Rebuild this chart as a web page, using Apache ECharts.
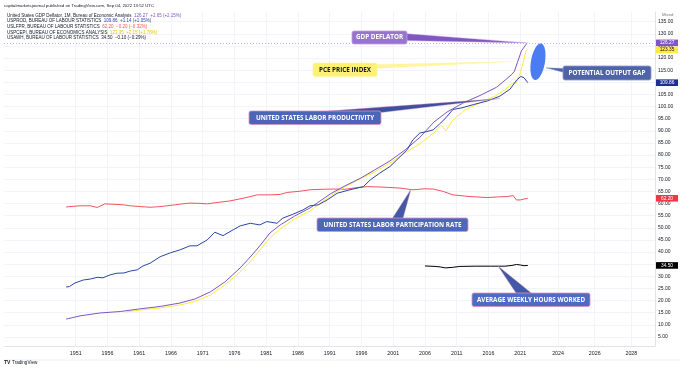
<!DOCTYPE html>
<html><head><meta charset="utf-8">
<script src="https://cdn.jsdelivr.net/npm/echarts@6/dist/echarts.min.js"></script>
<style>html,body{margin:0;padding:0;background:#fff}#c{width:680px;height:369px}</style>
</head><body><div id="c"></div>
<script>
// ---------------- DATA ----------------
const xTickLabels = [1951,1956,1961,1966,1971,1976,1981,1986,1991,1996,2001,2006,2011,2016,2021];
const futureTickLabels = [2024,2026,2028];
const yTickLabels = [5,10,15,20,25,30,35,40,45,50,55,60,65,70,75,80,85,90,95,100,105,110,115,120,125,130,135];

const gdpYears = [1949.5,1951.7,1954.8,1958.0,1961.1,1964.3,1967.4,1969.8,1972.2,1974.5,1976.9,1978.5,1980.0,1981.6,1983.2,1985.5,1987.9,1991.1,1993.4,1995.8,1998.1,2000.5,2002.9,2005.2,2007.4,2009.5,2012.1,2014.7,2017.3,2018.9,2019.7,2020.1,2020.6,2021.2,2022.1];
const gdpValues = [12.4,13.7,14.9,15.5,16.6,17.6,19.0,20.7,23.6,27.7,33.5,38.0,42.6,47.9,51.2,54.9,58.2,64.0,67.3,70.4,73.9,77.6,82.2,87.3,93.6,97.8,101.6,104.6,108.0,111.5,113.3,114.6,118.5,123.0,126.27];

const pceYears = [1958.9,1961.1,1964.3,1967.4,1969.8,1972.2,1974.5,1976.9,1978.5,1980.0,1981.6,1983.2,1985.5,1987.9,1991.1,1993.4,1995.8,1998.1,2000.5,2002.9,2005.2,2007.6,2008.5,2009.3,2010.3,2012.3,2014.7,2017.1,2018.6,2019.8,2020.4,2020.9,2021.4,2021.95];
const pceValues = [15.3,16.1,17.0,18.2,19.7,22.3,26.5,31.8,36.0,40.9,45.9,49.6,53.7,57.0,63.2,66.9,70.2,73.1,76.8,80.9,84.7,89.6,92.4,90.0,94.2,98.6,101.6,104.4,107.0,109.6,109.8,112.8,117.5,123.35];

const prodYears = [1949.5,1950.0,1950.9,1952.2,1953.3,1954.4,1955.3,1956.4,1957.5,1958.6,1959.6,1960.7,1961.6,1962.7,1964.3,1965.9,1967.4,1969.0,1970.1,1971.7,1972.9,1974.2,1975.8,1976.9,1978.5,1980.0,1981.1,1982.7,1983.6,1985.2,1986.8,1987.9,1989.2,1990.6,1992.2,1994.2,1996.3,1997.4,1998.9,2000.5,2002.1,2003.2,2004.1,2005.2,2006.3,2007.3,2008.3,2009.3,2010.4,2012.0,2013.6,2015.8,2017.8,2019.4,2020.5,2021.1,2021.6,2022.2];
const prodValues = [25.6,25.8,27.3,28.5,28.9,29.6,29.4,30.6,31.3,31.4,32.2,32.7,34.3,35.4,38.1,39.7,40.9,42.6,42.6,45.0,48.2,46.8,49.2,50.8,51.9,51.2,52.6,51.9,54.0,55.6,57.4,59.1,59.5,61.5,64.3,65.7,67.0,69.8,72.6,75.3,79.4,82.2,86.3,89.1,89.7,90.4,92.8,95.4,98.8,99.6,100.8,102.3,104.3,107.2,111.1,112.4,111.9,109.86];

const lfprYears = [1949.5,1950.1,1951.7,1953.3,1954.4,1955.6,1957.2,1958.5,1959.6,1961.1,1962.7,1964.0,1965.4,1966.6,1967.8,1969.0,1970.6,1971.7,1973.4,1975.3,1977.7,1979.6,1981.6,1983.2,1984.3,1986.3,1987.9,1989.8,1991.6,1993.4,1995.0,1996.9,1999.4,2002.1,2004.1,2006.0,2007.3,2008.9,2010.4,2013.1,2015.8,2017.8,2018.9,2019.9,2020.4,2021.0,2021.5,2022.2];
const lfprValues = [58.6,58.8,59.1,59.1,58.4,59.9,59.7,59.5,59.1,58.8,58.5,58.7,59.1,59.5,59.9,60.2,60.1,59.9,60.5,61.1,62.4,63.6,63.6,63.8,64.6,65.1,65.7,65.9,66.0,65.9,66.5,67.0,66.8,66.4,65.7,66.1,66.0,65.0,63.6,62.9,62.5,62.8,62.9,63.3,61.5,61.5,61.8,62.2];

const awhYears = [2006.0,2007.6,2008.4,2009.2,2010.3,2011.5,2013.9,2016.3,2018.6,2019.7,2020.4,2021.0,2021.6,2022.2];
const awhValues = [34.3,34.1,33.9,33.5,33.7,34.1,34.2,34.2,34.2,34.5,34.9,34.7,34.4,34.50];

const legendNames = ['United States GDP Deflator, 1M, Bureau of Economic Analysis','USPROD, BUREAU OF LABOUR STATISTICS','USLFPR, BUREAU OF LABOUR STATISTICS','USPCEPI, BUREAU OF ECONOMICS ANALYSIS','USAWH, BUREAU OF LABOUR STATISTICS'];
const legendChanges = ['+2.65 (+2.15%)','+1.14 (+1.05%)','\u22120.20 (\u22120.32%)','+2.15 (+1.78%)','\u22120.10 (\u22120.29%)'];

// ---------------- CHART ----------------
const C = {gdp:'#7e57c2', pce:'#ffeb3b', prod:'#2a46a6', lfpr:'#f5515f', awh:'#000000'};
const FONT = 'Liberation Sans, Arial, sans-serif';
const zip = (xs, vs) => xs.map((x, i) => [x, vs[i]]);
const chart = echarts.init(document.getElementById('c'), null, {renderer:'canvas'});

const GRID = {left:4, right:25, top:12, bottom:23};
const lineSeries = (name, xs, vs, color, extra) => Object.assign({
  name, type:'line', data: zip(xs, vs), showSymbol:false, symbol:'none',
  lineStyle:{color, width:1}, itemStyle:{color}, xAxisIndex:0, yAxisIndex:0, silent:true
}, extra || {});

chart.setOption({
  animation:false,
  backgroundColor:'#ffffff',
  grid:{left:GRID.left, right:GRID.right, top:GRID.top, bottom:GRID.bottom, containLabel:false, outerBoundsMode:'none'},
  xAxis:[{
    type:'value', position:'bottom', min:1939.71, max:2042.23,
    axisLine:{show:true, lineStyle:{color:'#e0e3eb'}},
    axisTick:{show:false, customValues:xTickLabels},
    axisLabel:{customValues:xTickLabels, formatter:v=>String(v), fontSize:5.3, color:'#131722', fontFamily:FONT, margin:5},
    splitLine:{show:true, lineStyle:{color:'#f2f4f9', width:1}}
  },{
    type:'value', position:'bottom', min:1993.77, max:2029.29,
    axisLine:{show:false},
    axisTick:{show:false, customValues:futureTickLabels},
    axisLabel:{customValues:futureTickLabels, formatter:v=>String(v), fontSize:5.3, color:'#131722', fontFamily:FONT, margin:5},
    splitLine:{show:true, lineStyle:{color:'#f2f4f9', width:1}}
  }],
  yAxis:[{
    type:'value', position:'right', min:1.29, max:139.0,
    axisLine:{show:true, lineStyle:{color:'#e0e3eb'}},
    axisTick:{show:false, customValues:yTickLabels},
    axisLabel:{customValues:yTickLabels, formatter:v=>v.toFixed(2), fontSize:5, color:'#131722', fontFamily:FONT, margin:3},
    splitLine:{show:true, lineStyle:{color:'#f2f4f9', width:1}}
  }],
  series:[
    lineSeries('USLFPR', lfprYears, lfprValues, C.lfpr),
    lineSeries('USAWH', awhYears, awhValues, C.awh),
    lineSeries('USPCEPI', pceYears, pceValues, C.pce),
    lineSeries('GDP Deflator', gdpYears, gdpValues, C.gdp, {
      markLine:{symbol:'none', silent:true, label:{show:false},
        lineStyle:{type:[1,2], color:'#b7a2e0', width:0.8},
        data:[{yAxis: gdpValues[gdpValues.length-1]}]}
    }),
    lineSeries('USPROD', prodYears, prodValues, C.prod)
  ]
});

// ---------------- OVERLAYS (anchored with the chart's own scales) ----------------
const px = (x, y) => chart.convertToPixel({xAxisIndex:0, yAxisIndex:0}, [x, y]);
const g = [];
const text = (t, x, y, o) => g.push({type:'text', silent:true, z:100, x, y,
  style:Object.assign({text:t, fontSize:4.3, fontFamily:FONT, fill:'#131722', textVerticalAlign:'middle'}, o||{})});

// header
text('capitalmarketsjournal published on TradingView.com, Sep 04, 2022 13:52 UTC', 4, 5.5);
// legend
const legendVals = [gdpValues, prodValues, lfprValues, pceValues, awhValues].map(a => a[a.length-1].toFixed(2));
const legendCols = [C.gdp, C.prod, C.lfpr, '#e6c800', '#131722'];
legendNames.forEach((n, i) => {
  g.push({type:'text', silent:true, z:100, x:7, y:15.3 + i*5.7, style:{
    text:'{n|' + n + '}  {v|' + legendVals[i] + '}  {v|' + legendChanges[i] + '}',
    fontSize:4.5, fontFamily:FONT, textVerticalAlign:'middle',
    rich:{n:{fill:'#131722', fontSize:4.5, fontFamily:FONT}, v:{fill:legendCols[i], fontSize:4.5, fontFamily:FONT}}
  }});
});
text('Mixed', 662, 15, {fill:'#787b86'});
// watermark
text('TV', 4, 363, {fontWeight:'bold', fontSize:5});
text('TradingView', 12, 363, {fontSize:4.6});
// bottom strip line
g.push({type:'line', silent:true, z:1, shape:{x1:4, y1:360, x2:680, y2:360}, style:{stroke:'#eef0f5', lineWidth:1}});

// callouts: box in page layout, tip anchored in data space
const notes = [
  {t:'GDP DEFLATOR', box:[352,31,55,13], fill:'#9575cd', color:'#ffffff', stroke:'#c79be0', base:[[404,33.5],[404,40.5]], tip:[2022.08,126.27], wedge:'#7e57c2'},
  {t:'PCE PRICE INDEX', box:[313,63,64,13.5], fill:'#fff176', color:'#131722', stroke:'#fff59d', base:[[375,64.5],[375,68.5]], tip:[2019.87,118.6], wedge:'#fff59d'},
  {t:'UNITED STATES LABOR PRODUCTIVITY', box:[249,111,132,13.5], fill:'#4a66b5', color:'#ffffff', stroke:'#d990bd', base:[[300,113],[300,122]], tip:[2017.85,103.3], wedge:'#3d4f9f'},
  {t:'POTENTIAL OUTPUT GAP', box:[563,66,88,14], fill:'#4f64a8', color:'#ffffff', stroke:'#8b9acb', base:[[566,68.5],[566,73]], tip:[2025.06,116.0], wedge:'#4f64a8'},
  {t:'UNITED STATES LABOR PARTICIPATION RATE', box:[317,218,151,13.5], fill:'#4d68b8', color:'#ffffff', stroke:'#d990bd', base:[[390,222],[402,222]], tip:[2003.8,65.87], wedge:'#4458a8'},
  {t:'AVERAGE WEEKLY HOURS WORKED', box:[472,293,118,13.5], fill:'#4d6cc2', color:'#ffffff', stroke:'#d990bd', base:[[518,296],[535,296]], tip:[2017.5,34.3], wedge:'#4458a8'}
];
notes.forEach(n => {
  const tp = px(n.tip[0], n.tip[1]);
  g.push({type:'polygon', silent:true, z:90, shape:{points:[n.base[0], n.base[1], tp]}, style:{fill:n.wedge, stroke:n.stroke, lineWidth:0.4}});
  g.push({type:'rect', silent:true, z:91, shape:{x:n.box[0], y:n.box[1], width:n.box[2], height:n.box[3], r:2}, style:{fill:n.fill, stroke:n.stroke, lineWidth:0.8}});
  g.push({type:'text', silent:true, z:92, x:n.box[0] + n.box[2]/2, y:n.box[1] + n.box[3]/2, style:{text:n.t, fill:n.color, fontSize:6.3, fontWeight:'bold', fontFamily:'Open Sans, Liberation Sans, sans-serif', textAlign:'center', textVerticalAlign:'middle'}});
});
// blob
const bc = px(2023.8, 118.5);
g.push({type:'ellipse', silent:true, z:90, x:bc[0], y:bc[1], rotation:-0.17, shape:{cx:0, cy:0, rx:7, ry:18.5}, style:{fill:'#4a7cf2'}});

// price labels on the right axis
const tags = [
  [gdpValues, C.gdp, '#ffffff'], [pceValues, C.pce, '#131722'], [prodValues, '#1d2f91', '#ffffff'],
  [lfprValues, '#f23645', '#ffffff'], [awhValues, '#000000', '#ffffff']
];
tags.forEach(([arr, bg, fg]) => {
  const v = arr[arr.length-1];
  const y = chart.convertToPixel({yAxisIndex:0}, v);
  g.push({type:'rect', silent:true, z:95, shape:{x:656, y:y-3.3, width:22, height:6.6}, style:{fill:bg}});
  g.push({type:'text', silent:true, z:96, x:667, y:y, style:{text:v.toFixed(2), fill:fg, fontSize:4.8, fontFamily:FONT, textAlign:'center', textVerticalAlign:'middle'}});
});

chart.setOption({graphic:g});
</script>
</body></html>
